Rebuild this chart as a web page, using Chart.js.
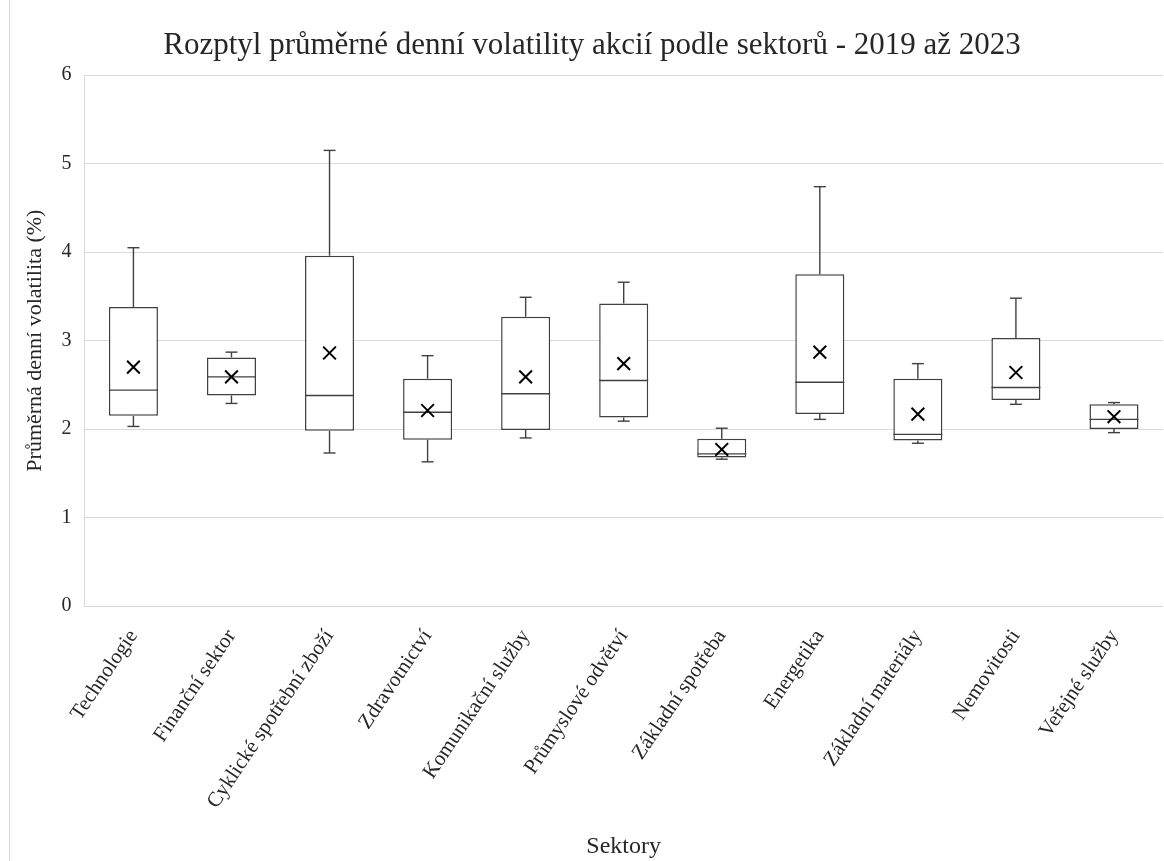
<!DOCTYPE html>
<html lang="cs">
<head>
  <meta charset="UTF-8">
  <title>Rozptyl volatility podle sektorů</title>
  <script src="https://cdn.jsdelivr.net/npm/chart.js"></script>
  <style>
    body {
      margin: 0;
      background: #fff;
      overflow: hidden;
    }
    .frame {
      position: absolute;
      left: 9px;
      top: 0;
      width: 1164px;
      height: 861px;
      border-left: 1px solid #d9d9d9;
    }
  </style>
</head>
<body>
<div class="frame"><canvas id="boxChart"></canvas></div>

<script>
  // Sectors and box plot statistics
  const sectors = ['Technologie', 'Finanční sektor', 'Cyklické spotřební zboží', 'Zdravotnictví',
    'Komunikační služby', 'Průmyslové odvětví', 'Základní spotřeba', 'Energetika',
    'Základní materiály', 'Nemovitosti', 'Veřejné služby'];
  const minVals = [2.03, 2.29, 1.73, 1.63, 1.90, 2.09, 1.66, 2.11, 1.84, 2.28, 1.96];
  const q1Vals = [2.15, 2.38, 1.98, 1.88, 1.99, 2.13, 1.68, 2.17, 1.87, 2.33, 2.00];
  const medianVals = [2.44, 2.59, 2.38, 2.19, 2.40, 2.55, 1.72, 2.53, 1.94, 2.47, 2.11];
  const q3Vals = [3.38, 2.81, 3.96, 2.57, 3.27, 3.42, 1.89, 3.75, 2.57, 3.03, 2.28];
  const maxVals = [4.05, 2.87, 5.15, 2.83, 3.49, 3.66, 2.01, 4.74, 2.74, 3.48, 2.30];
  const meanVals = [2.70, 2.59, 2.86, 2.21, 2.59, 2.74, 1.77, 2.87, 2.17, 2.64, 2.14];

  const serif = "'Liberation Serif', 'Times New Roman', serif";
  const textColor = '#262626';

  // draws medians and whiskers for the box dataset, using the chart scales
  const boxPlotLines = {
    id: 'boxPlotLines',
    afterDatasetDraw(chart, args) {
      if (args.index !== 0) return;
      const ctx = chart.ctx;
      const yScale = chart.scales.y;
      const meta = chart.getDatasetMeta(0);
      const line = (x1, y1, x2, y2) => {
        ctx.beginPath();
        ctx.moveTo(x1, y1);
        ctx.lineTo(x2, y2);
        ctx.stroke();
      };
      ctx.save();
      ctx.strokeStyle = '#404040';
      ctx.lineWidth = 1.4;
      meta.data.forEach((bar, i) => {
        const x = bar.x;
        const half = bar.width / 2;
        const cap = 6;
        const yMed = yScale.getPixelForValue(medianVals[i]);
        line(x - half, yMed, x + half, yMed);

        const yMax = yScale.getPixelForValue(maxVals[i]);
        const yQ3 = yScale.getPixelForValue(q3Vals[i]);
        line(x, yQ3, x, yMax);
        line(x - cap, yMax, x + cap, yMax);

        const yMin = yScale.getPixelForValue(minVals[i]);
        const yQ1 = yScale.getPixelForValue(q1Vals[i]);
        line(x, yQ1, x, yMin);
        line(x - cap, yMin, x + cap, yMin);
      });
      ctx.restore();
    }
  };

  new Chart(document.getElementById('boxChart'), {
    type: 'bar',
    data: {
      labels: sectors,
      datasets: [{
        label: 'Kvartily',
        data: sectors.map((_, i) => [q1Vals[i], q3Vals[i]]),
        backgroundColor: '#fff',
        borderColor: '#404040',
        borderWidth: 1.5,
        borderSkipped: false,
        barPercentage: 0.5,
        categoryPercentage: 1,
        order: 2
      }, {
        type: 'line',
        label: 'Průměr',
        data: meanVals,
        showLine: false,
        pointStyle: 'crossRot',
        pointRadius: 9,
        pointBorderColor: '#000',
        pointBorderWidth: 2,
        order: 1
      }]
    },
    options: {
      responsive: true,
      maintainAspectRatio: false,
      animation: false,
      layout: { padding: { left: 3, right: 3, top: 8, bottom: 0 } },
      plugins: {
        legend: { display: false },
        tooltip: { enabled: false },
        title: {
          display: true,
          text: 'Rozptyl průměrné denní volatility akcií podle sektorů - 2019 až 2023',
          color: textColor,
          font: { family: serif, size: 31, weight: 'normal' },
          padding: { top: 19, bottom: 11 }
        }
      },
      scales: {
        x: {
          grid: { display: false },
          border: { display: false },
          // rotated labels should not push the plot area inwards
          afterFit(scale) {
            scale.paddingLeft = 0;
            scale.paddingRight = 0;
          },
          ticks: {
            color: textColor,
            font: { family: serif, size: 21 },
            minRotation: 56,
            maxRotation: 56,
            autoSkip: false,
            padding: 11
          },
          title: {
            display: true,
            text: 'Sektory',
            color: textColor,
            font: { family: serif, size: 24 },
            padding: { top: 8, bottom: 0 }
          }
        },
        y: {
          min: 0,
          max: 6,
          ticks: {
            stepSize: 1,
            color: textColor,
            font: { family: serif, size: 20 },
            padding: 13
          },
          grid: { color: '#d9d9d9', drawTicks: false },
          border: { display: true, color: '#d9d9d9' },
          title: {
            display: true,
            text: 'Průměrná denní volatilita (%)',
            color: textColor,
            font: { family: serif, size: 22 },
            padding: { top: 9, bottom: 0 }
          }
        }
      }
    },
    plugins: [boxPlotLines]
  });
</script>
</body>
</html>
